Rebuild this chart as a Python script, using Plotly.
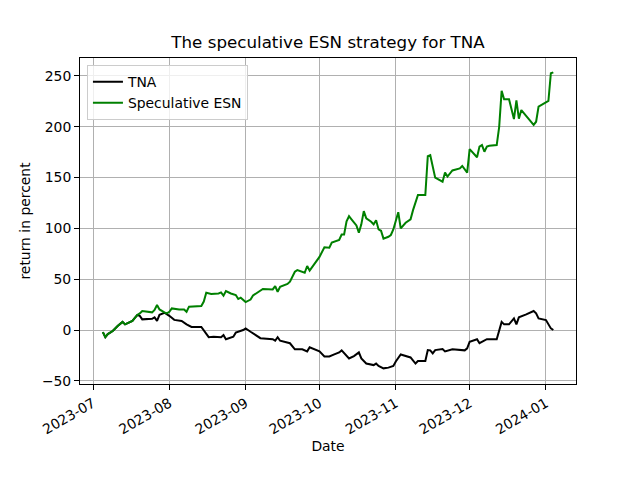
import plotly.graph_objects as go

tna_dates = [
    "2023-07-05", "2023-07-06", "2023-07-07", "2023-07-09", "2023-07-11", "2023-07-13", "2023-07-14",
    "2023-07-15", "2023-07-17", "2023-07-18", "2023-07-19", "2023-07-20", "2023-07-21", "2023-07-25",
    "2023-07-26", "2023-07-27", "2023-07-28", "2023-07-30", "2023-08-01", "2023-08-03", "2023-08-06",
    "2023-08-08", "2023-08-10", "2023-08-14", "2023-08-17", "2023-08-19", "2023-08-22", "2023-08-23",
    "2023-08-24", "2023-08-27", "2023-08-28", "2023-08-31", "2023-09-01", "2023-09-03", "2023-09-07",
    "2023-09-12", "2023-09-13", "2023-09-14", "2023-09-15", "2023-09-19", "2023-09-21", "2023-09-24",
    "2023-09-26", "2023-09-27", "2023-10-01", "2023-10-03", "2023-10-05", "2023-10-07", "2023-10-09",
    "2023-10-10", "2023-10-13", "2023-10-15", "2023-10-17", "2023-10-18", "2023-10-20", "2023-10-23",
    "2023-10-24", "2023-10-25", "2023-10-27", "2023-10-29", "2023-10-31", "2023-11-01", "2023-11-03",
    "2023-11-07", "2023-11-09", "2023-11-10", "2023-11-13", "2023-11-14", "2023-11-15", "2023-11-16",
    "2023-11-17", "2023-11-20", "2023-11-21", "2023-11-24", "2023-11-27", "2023-11-29", "2023-11-30",
    "2023-12-01", "2023-12-04", "2023-12-05", "2023-12-08", "2023-12-12", "2023-12-14", "2023-12-15",
    "2023-12-17", "2023-12-19", "2023-12-20", "2023-12-21", "2023-12-24", "2023-12-27", "2023-12-28",
    "2023-12-29", "2024-01-01", "2024-01-03", "2024-01-04",
]
tna_values = [
    -2, -7, -4, -1, 4, 8, 5.6,
    7, 9, 12, 14.8, 14, 10.5, 11,
    12.5, 9, 15, 17, 14, 10, 9,
    5.6, 3, 3, -7, -6.6, -7, -5,
    -9, -6.6, -2.6, 0, 1.6, -1.7, -8,
    -9, -10.5, -7, -10.5, -13, -19, -19,
    -21, -17, -21, -26, -26, -24, -22,
    -20, -28, -25.6, -22, -28, -33, -34.5,
    -33, -35.4, -37.7, -37, -35.4, -31, -24,
    -27, -33, -30.5, -30.5, -19.7, -20, -23,
    -19.7, -18.7, -21, -19, -19.7, -20, -18,
    -11.5, -9, -13, -9, -9, 8, 5.6,
    5.6, 11.5, 5.6, 12.5, 15.4, 18.7, 16.4,
    11.5, 9.8, 1.6, 0,
]

esn_dates = [
    "2023-07-05", "2023-07-06", "2023-07-07", "2023-07-09", "2023-07-11", "2023-07-13", "2023-07-14",
    "2023-07-15", "2023-07-17", "2023-07-18", "2023-07-19", "2023-07-20", "2023-07-21", "2023-07-25",
    "2023-07-26", "2023-07-27", "2023-07-28", "2023-07-30", "2023-07-31", "2023-08-01", "2023-08-02",
    "2023-08-05", "2023-08-07", "2023-08-08", "2023-08-09", "2023-08-14", "2023-08-15", "2023-08-16",
    "2023-08-18", "2023-08-21", "2023-08-22", "2023-08-23", "2023-08-24", "2023-08-26", "2023-08-28",
    "2023-08-29", "2023-08-30", "2023-09-01", "2023-09-03", "2023-09-04", "2023-09-08", "2023-09-12",
    "2023-09-13", "2023-09-14", "2023-09-15", "2023-09-18", "2023-09-19", "2023-09-21", "2023-09-22",
    "2023-09-25", "2023-09-26", "2023-09-27", "2023-09-29", "2023-10-01", "2023-10-03", "2023-10-05",
    "2023-10-06", "2023-10-09", "2023-10-10", "2023-10-11", "2023-10-12", "2023-10-13", "2023-10-14",
    "2023-10-16", "2023-10-17", "2023-10-18", "2023-10-19", "2023-10-20", "2023-10-22", "2023-10-23",
    "2023-10-24", "2023-10-25", "2023-10-26", "2023-10-27", "2023-10-29", "2023-10-30", "2023-10-31",
    "2023-11-02", "2023-11-03", "2023-11-05", "2023-11-07", "2023-11-08", "2023-11-10", "2023-11-13",
    "2023-11-14", "2023-11-15", "2023-11-17", "2023-11-20", "2023-11-21", "2023-11-22", "2023-11-24",
    "2023-11-27", "2023-11-28", "2023-11-30", "2023-12-01", "2023-12-04", "2023-12-05", "2023-12-06",
    "2023-12-07", "2023-12-08", "2023-12-09", "2023-12-12", "2023-12-13", "2023-12-14", "2023-12-15",
    "2023-12-17", "2023-12-19", "2023-12-20", "2023-12-21", "2023-12-22", "2023-12-27", "2023-12-28",
    "2023-12-29", "2024-01-02", "2024-01-03", "2024-01-04",
]
esn_values = [
    -2, -7, -4, -1, 4, 8, 5.6,
    7, 9, 12, 14.8, 16.4, 18.7, 17.4,
    19.7, 24.6, 20.3, 17.4, 16.4, 18, 21.3,
    20.3, 20.3, 18, 23, 23.6, 28, 36.7,
    35.4, 36, 37, 33.8, 38.4, 36, 34.4,
    30.5, 31.8, 27.5, 30, 34, 40.4, 40,
    43.3, 37.7, 42.6, 45.3, 47.6, 57.4, 59,
    56.4, 63, 58.4, 64.7, 72, 81.4, 81,
    86, 88.6, 94, 94, 107, 112, 109,
    103, 95.8, 104, 117, 110, 106.6, 104,
    108, 99, 97.7, 90, 91.8, 93.5, 99,
    116, 100, 105.6, 109, 118, 133, 133,
    171, 172, 150, 146, 155, 151, 157,
    159, 161.4, 155, 178, 170, 180.5, 182,
    175.5, 180.5, 181.4, 182, 200, 235.5, 227,
    227, 207.6, 226, 208, 216.5, 201.8, 205,
    219.8, 225.4, 252.7, 253.6,
]

x_ticks = ["2023-07-01", "2023-08-01", "2023-09-01", "2023-10-01", "2023-11-01", "2023-12-01", "2024-01-01"]
x_tick_labels = ["2023-07", "2023-08", "2023-09", "2023-10", "2023-11", "2023-12", "2024-01"]
y_ticks = [-50, 0, 50, 100, 150, 200, 250]

fig = go.Figure()
fig.add_trace(go.Scatter(x=tna_dates, y=tna_values, mode="lines", name="TNA",
                         line=dict(color="black", width=2)))
fig.add_trace(go.Scatter(x=esn_dates, y=esn_values, mode="lines", name="Speculative ESN",
                         line=dict(color="#008000", width=2)))

axis_common = dict(showline=True, linecolor="black", linewidth=1, mirror=True,
                   ticks="outside", ticklen=5, tickcolor="black", automargin=False,
                   showgrid=True, gridcolor="#b0b0b0", gridwidth=1, zeroline=False,
                   tickfont=dict(size=13.9, color="black"))

# page body adds an 8px offset; margins compensate so the plot area lands at (80,58)-(576,384)
fig.update_layout(
    width=640, height=480,
    paper_bgcolor="white", plot_bgcolor="white",
    font=dict(family="DejaVu Sans", color="black"),
    margin=dict(l=72, r=72, t=50, b=104),
    title=dict(text="The speculative ESN strategy for TNA", x=0.5, xanchor="center",
               y=1 - 34 / 480, yanchor="middle", font=dict(size=16.7)),
    xaxis=dict(range=["2023-06-25 17:00", "2024-01-13 05:00"], tickvals=x_ticks, ticktext=x_tick_labels,
               tickangle=-30, title=dict(text="Date", font=dict(size=13.9), standoff=4), **axis_common),
    yaxis=dict(range=[-53.1, 267.7], tickvals=y_ticks,
               title=dict(text="return in percent", font=dict(size=13.9), standoff=8), **axis_common),
    legend=dict(x=0.014, y=0.978, xanchor="left", yanchor="top", bgcolor="rgba(255,255,255,0.8)",
                bordercolor="#cccccc", borderwidth=1, font=dict(size=13.9), tracegroupgap=0,
                itemwidth=30),
    showlegend=True,
)

fig.write_html("out.html")
